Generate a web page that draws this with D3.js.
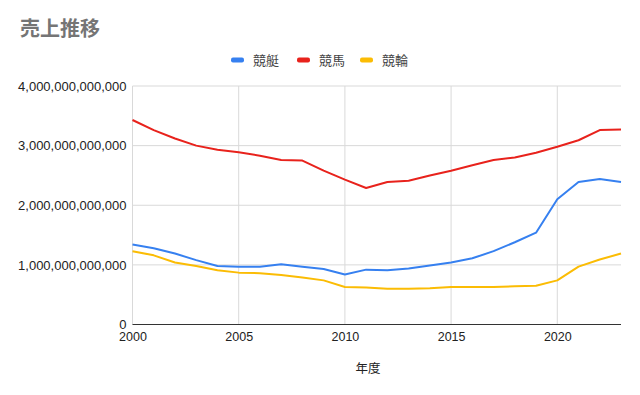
<!DOCTYPE html>
<html>
<head>
<meta charset="utf-8">
<script src="https://cdn.jsdelivr.net/npm/d3@7"></script>
<style>
  body { margin: 0; background: #fff; }
  text { font-family: Arial, "Liberation Sans", "Noto Sans CJK JP", sans-serif; }
</style>
</head>
<body>
<div id="chart"></div>
<script>
// data, in trillions of yen
var years = d3.range(2000, 2024);
var kyotei = [1.34, 1.28, 1.19, 1.08, 0.98, 0.97, 0.97, 1.01, 0.97, 0.93, 0.84, 0.92,
              0.91, 0.94, 0.99, 1.04, 1.11, 1.23, 1.38, 1.54, 2.10, 2.39, 2.44, 2.39];
var keiba = [3.43, 3.26, 3.12, 3.00, 2.93, 2.89, 2.83, 2.76, 2.75, 2.58, 2.43, 2.29,
             2.39, 2.41, 2.50, 2.58, 2.67, 2.76, 2.80, 2.88, 2.98, 3.09, 3.26, 3.27];
var keirin = [1.23, 1.16, 1.04, 0.98, 0.91, 0.87, 0.86, 0.83, 0.79, 0.74, 0.63, 0.62,
              0.60, 0.60, 0.61, 0.63, 0.63, 0.63, 0.64, 0.65, 0.74, 0.97, 1.09, 1.19];
var seriesNames = ["競艇", "競馬", "競輪"];
var yTicks = [0, 1e12, 2e12, 3e12, 4e12];
var xTicks = [2000, 2005, 2010, 2015, 2020];

var colors = ["#3680f0", "#e8221c", "#fbbc04"];
var series = [kyotei, keiba, keirin].map(function(vals, i) {
    return {name: seriesNames[i], color: colors[i],
            values: vals.map(function(v, j) { return {year: years[j], value: v * 1e12}; })};
});

var w = 640, h = 395;
var svg = d3.select("#chart").append("svg")
            .attr("width", w)
            .attr("height", h);

// plot area edges
var pLeft = 132.5, pRight = 621, pTop = 86, pBottom = 324.5;

var x = d3.scaleLinear().domain([2000, 2023]).range([pLeft, pRight]);
var y = d3.scaleLinear().domain([0, 4e12]).range([pBottom, pTop]);

//title
svg.append("text")
    .attr("x", 20)
    .attr("y", 36)
    .attr("font-size", 20)
    .attr("font-weight", "bold")
    .attr("fill", "#757575")
    .text("売上推移");

//grid lines
svg.append("g").selectAll("line")
    .data(yTicks.slice(1))
    .enter().append("line")
    .attr("x1", pLeft).attr("x2", pRight)
    .attr("y1", function(d) { return y(d); })
    .attr("y2", function(d) { return y(d); })
    .attr("stroke", "#d9d9d9")
    .attr("stroke-width", 1);

svg.append("g").selectAll("line")
    .data(xTicks)
    .enter().append("line")
    .attr("x1", function(d) { return x(d); })
    .attr("x2", function(d) { return x(d); })
    .attr("y1", pTop).attr("y2", pBottom)
    .attr("stroke", "#d9d9d9")
    .attr("stroke-width", 1);

//axes
var yAxis = svg.append("g")
    .attr("transform", "translate(" + (pLeft - 6) + ",0)")
    .call(d3.axisLeft(y).tickValues(yTicks).tickSize(0).tickPadding(0)
          .tickFormat(d3.format(",.0f")));
yAxis.select(".domain").remove();
yAxis.selectAll("text").attr("font-size", 13).attr("fill", "#222")
     .style("font-family", "Arial, 'Liberation Sans', sans-serif");

var xAxis = svg.append("g")
    .attr("transform", "translate(0," + pBottom + ")")
    .call(d3.axisBottom(x).tickValues(xTicks).tickSize(0).tickPadding(8)
          .tickFormat(d3.format("d")));
xAxis.select(".domain").remove();
xAxis.selectAll("text").attr("font-size", 12.5).attr("fill", "#222")
     .style("font-family", "Arial, 'Liberation Sans', sans-serif");

//baseline
svg.append("line")
    .attr("x1", pLeft).attr("x2", pRight)
    .attr("y1", y(0)).attr("y2", y(0))
    .attr("stroke", "#333")
    .attr("stroke-width", 1);

//x axis title
svg.append("text")
    .attr("x", 368)
    .attr("y", 373)
    .attr("text-anchor", "middle")
    .attr("font-size", 12.5)
    .attr("fill", "#222")
    .text("年度");

//lines
var line = d3.line()
    .x(function(d) { return x(d.year); })
    .y(function(d) { return y(d.value); });

svg.append("g").selectAll("path")
    .data(series)
    .enter().append("path")
    .attr("d", function(d) { return line(d.values); })
    .attr("fill", "none")
    .attr("stroke", function(d) { return d.color; })
    .attr("stroke-width", 2)
    .attr("stroke-linejoin", "round");

//legend
var legendX = [231, 297, 360];
var legend = svg.append("g").selectAll("g")
    .data(series)
    .enter().append("g")
    .attr("transform", function(d, i) { return "translate(" + legendX[i] + ",60)"; });

legend.append("rect")
    .attr("x", 0).attr("y", -2.5)
    .attr("width", 13).attr("height", 5)
    .attr("rx", 2)
    .attr("fill", function(d) { return d.color; });

legend.append("text")
    .attr("x", 22)
    .attr("y", 4.5)
    .attr("font-size", 13)
    .attr("fill", "#444")
    .text(function(d) { return d.name; });
</script>
</body>
</html>
